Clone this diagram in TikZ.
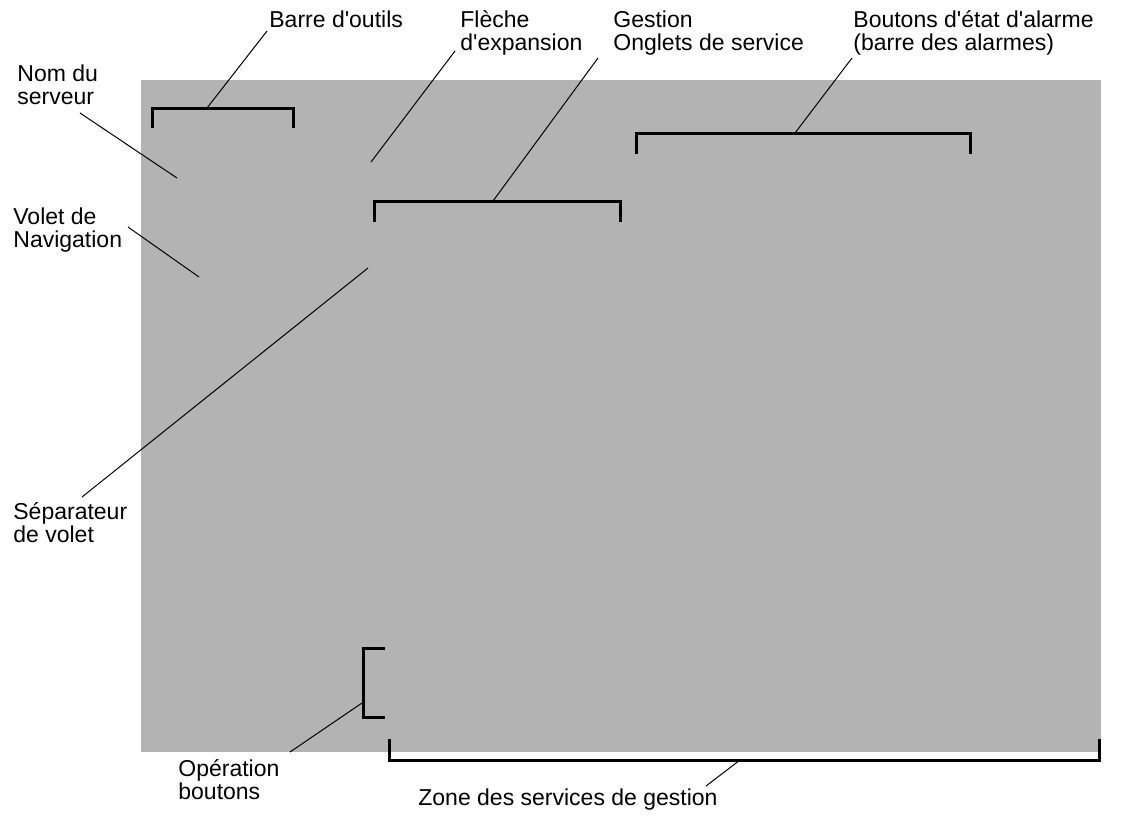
\documentclass[tikz,border=0pt]{standalone}
\usepackage{fontspec}
\setmainfont{Liberation Sans}
\newcommand{\apos}{\textquotesingle}
\definecolor{panelgray}{RGB}{179,179,179}
\begin{document}
\begin{tikzpicture}[x=0.5pt,y=-0.5pt,
  lbl/.style={anchor=base west, inner sep=0pt, align=left, font=\fontsize{11.5}{11.5}\selectfont},
  brk/.style={line width=1.5pt, line cap=butt, line join=miter},
  lead/.style={line width=0.5pt}]
\useasboundingbox (0,0) rectangle (1122,815);
\fill[panelgray] (141,80) rectangle (1101,752);

% labels (base anchor = baseline of last line)
\node[lbl] (barre) at (269,27) {Barre d\apos outils};
\node[lbl] (fleche) at (460,50) {Flèche\\d\apos expansion};
\node[lbl] (gestion) at (613,50) {Gestion\\Onglets de service};
\node[lbl] (alarme) at (853,50) {Boutons d\apos état d\apos alarme\\(barre des alarmes)};
\node[lbl] (nom) at (17,104) {Nom du\\serveur};
\node[lbl] (volet) at (13,247) {Volet de\\Navigation};
\node[lbl] (sep) at (13,542) {Séparateur\\de volet};
\node[lbl] (oper) at (178,799) {Opération\\boutons};
\node[lbl] (zone) at (418,805) {Zone des services de gestion};

% brackets
\draw[brk] (152,128) -- (152,108) -- (293,108) -- (293,128);
\draw[brk] (374,222) -- (374,201) -- (620,201) -- (620,222);
\draw[brk] (636,154) -- (636,133) -- (970,133) -- (970,154);
\draw[brk] (385,648) -- (363,648) -- (363,717) -- (385,717);
\draw[brk] (389,739) -- (389,760) -- (1099,760) -- (1099,739);

% leader end points
\coordinate (barreEnd) at (267,31);
\coordinate (barreBr) at (207,108);
\coordinate (flecheEnd) at (455,51);
\coordinate (flecheTgt) at (371,162);
\coordinate (gestionEnd) at (598,58);
\coordinate (gestionBr) at (493,201);
\coordinate (alarmeEnd) at (852,58);
\coordinate (alarmeBr) at (795,133);
\coordinate (nomEnd) at (80,113);
\coordinate (nomTgt) at (177,178);
\coordinate (voletEnd) at (128,227);
\coordinate (voletTgt) at (199,277);
\coordinate (sepEnd) at (82,497);
\coordinate (sepTgt) at (368,268);
\coordinate (operEnd) at (290,752);
\coordinate (operBr) at (362,703);
\coordinate (zoneEnd) at (706,786);
\coordinate (zoneBr) at (740,760);

% leaders
\draw[lead] (barreEnd) -- (barreBr);
\draw[lead] (flecheEnd) -- (flecheTgt);
\draw[lead] (gestionEnd) -- (gestionBr);
\draw[lead] (alarmeEnd) -- (alarmeBr);
\draw[lead] (nomEnd) -- (nomTgt);
\draw[lead] (voletEnd) -- (voletTgt);
\draw[lead] (sepEnd) -- (sepTgt);
\draw[lead] (operEnd) -- (operBr);
\draw[lead] (zoneEnd) -- (zoneBr);
\end{tikzpicture}
\end{document}
